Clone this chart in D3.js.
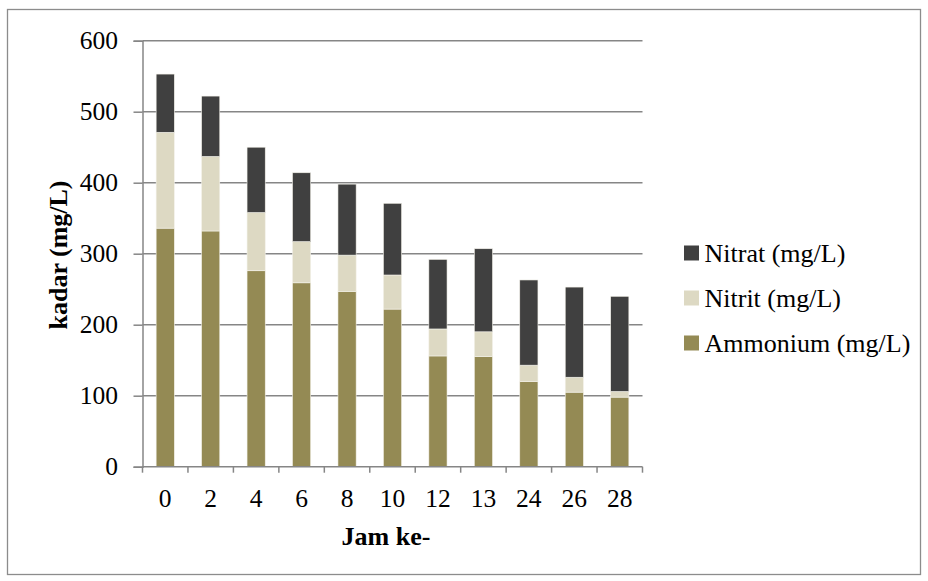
<!DOCTYPE html>
<html>
<head>
<meta charset="utf-8">
<script src="https://cdn.jsdelivr.net/npm/d3@7"></script>
<style>
  html, body { margin: 0; padding: 0; background: #fff; }
  svg { display: block; }
  svg text { font-family: "Liberation Serif"; }
</style>
</head>
<body>
<svg id="chart" width="928" height="581"></svg>
<script>
// Hour of sampling
const hours = ["0", "2", "4", "6", "8", "10", "12", "13", "24", "26", "28"];
// Concentrations per hour (mg/L)
const ammonium = [336, 332, 276, 259, 247, 222, 156, 155, 120, 105, 98];
const nitrit   = [135, 105, 82, 58, 51, 48, 38, 35, 23, 21, 8];
const nitrat   = [82, 85, 92, 97, 100, 101, 98, 117, 120, 127, 134];
const yTicks = [0, 100, 200, 300, 400, 500, 600];

const seriesNames = ["Ammonium (mg/L)", "Nitrit (mg/L)", "Nitrat (mg/L)"];
const seriesColors = ["#948a54", "#ddd9c3", "#404040"];

const FONT = '"Liberation Serif"';
const TICK_SIZE = "25.5px";
const LABEL_SIZE = "26px";

const rows = hours.map((h, i) => ({
  hour: h,
  "Ammonium (mg/L)": ammonium[i],
  "Nitrit (mg/L)": nitrit[i],
  "Nitrat (mg/L)": nitrat[i]
}));

const svg = d3.select("#chart");
const margin = { left: 142.5, right: 928 - 642.5, top: 40.7, bottom: 581 - 466.7 };

// Outer chart frame
svg.append("rect")
  .attr("x", 7.5).attr("y", 9.5)
  .attr("width", 913).attr("height", 565)
  .attr("fill", "#fff").attr("stroke", "#8c8c8c").attr("stroke-width", 1.3);

const x = d3.scaleBand()
  .domain(hours)
  .range([margin.left, 928 - margin.right])
  .paddingInner(0.6).paddingOuter(0.3);

const y = d3.scaleLinear()
  .domain([0, 600])
  .range([581 - margin.bottom, margin.top]);

// Horizontal gridlines
svg.append("g")
  .selectAll("line")
  .data(yTicks.filter(t => t > 0))
  .join("line")
  .attr("x1", margin.left).attr("x2", 928 - margin.right)
  .attr("y1", d => y(d)).attr("y2", d => y(d))
  .attr("stroke", "#868686").attr("stroke-width", 1.5);

// Stacked bars
const stack = d3.stack().keys(seriesNames);
const layers = stack(rows);

svg.append("g")
  .selectAll("g")
  .data(layers)
  .join("g")
  .attr("fill", (d, i) => seriesColors[i])
  .selectAll("rect")
  .data(d => d)
  .join("rect")
  .attr("x", d => x(d.data.hour))
  .attr("width", x.bandwidth())
  .attr("y", d => y(d[1]))
  .attr("height", d => y(d[0]) - y(d[1]))
  .attr("stroke", "#f4f2ea")
  .attr("stroke-width", 0.6);

// Y axis
const yAxis = svg.append("g")
  .attr("transform", `translate(${margin.left},0)`)
  .call(d3.axisLeft(y).tickValues(yTicks).tickSize(9).tickPadding(15.5))
  .attr("font-family", null);
yAxis.select(".domain").attr("stroke", "#868686").attr("stroke-width", 1.5);
yAxis.selectAll(".tick line").attr("stroke", "#868686").attr("stroke-width", 1.5);
yAxis.selectAll(".tick text")
  .attr("dy", "0.32em")
  .style("font-family", FONT)
  .style("font-size", TICK_SIZE).attr("fill", "#000");

// X axis with ticks at the category boundaries
const xAxis = svg.append("g")
  .attr("transform", `translate(0,${y(0)})`);
xAxis.append("line")
  .attr("x1", margin.left).attr("x2", 928 - margin.right)
  .attr("stroke", "#868686").attr("stroke-width", 1.5);
const x0 = x.range()[0];
const xw = (x.range()[1] - x0) / hours.length;
xAxis.selectAll("line.tk")
  .data(d3.range(hours.length + 1))
  .join("line")
  .attr("class", "tk")
  .attr("x1", i => x0 + i * xw)
  .attr("x2", i => x0 + i * xw)
  .attr("y1", 0).attr("y2", 6)
  .attr("stroke", "#868686").attr("stroke-width", 1.5);
xAxis.selectAll("text")
  .data(hours)
  .join("text")
  .attr("x", d => x(d) + x.bandwidth() / 2)
  .attr("y", 40.6)
  .attr("text-anchor", "middle")
  .style("font-family", FONT)
  .style("font-size", TICK_SIZE)
  .attr("fill", "#000")
  .text(d => d);

// Axis titles
svg.append("text")
  .attr("x", 386)
  .attr("y", 545)
  .attr("text-anchor", "middle")
  .style("font-family", FONT)
  .style("font-size", LABEL_SIZE).style("font-weight", "bold")
  .text("Jam ke-");

svg.append("text")
  .attr("transform", "translate(66.5,255) rotate(-90)")
  .attr("text-anchor", "middle")
  .style("font-family", FONT)
  .style("font-size", LABEL_SIZE).style("font-weight", "bold")
  .text("kadar (mg/L)");

// Legend (top series first)
const legendItems = seriesNames.map((n, i) => ({ name: n, color: seriesColors[i] })).reverse();
const legend = svg.append("g").attr("transform", "translate(684,253)");
const lg = legend.selectAll("g")
  .data(legendItems)
  .join("g")
  .attr("transform", (d, i) => `translate(0,${i * 45})`);
lg.append("rect")
  .attr("x", 0).attr("y", -7.5)
  .attr("width", 15).attr("height", 15)
  .attr("fill", d => d.color);
lg.append("text")
  .attr("x", 20.5).attr("y", 9.2)
  .style("font-family", FONT)
  .style("font-size", LABEL_SIZE)
  .attr("fill", "#000")
  .text(d => d.name);
</script>
</body>
</html>
